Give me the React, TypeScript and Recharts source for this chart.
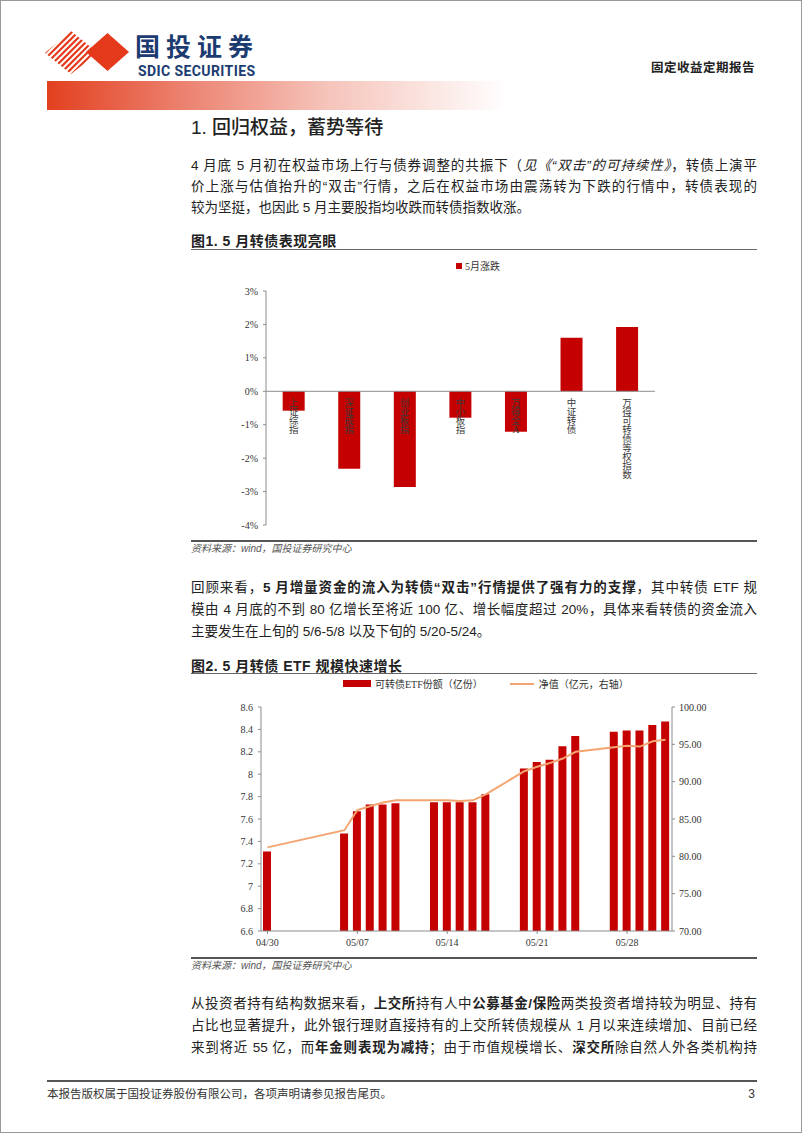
import React from "react";
import {
  BarChart,
  Bar,
  ComposedChart,
  Line,
  XAxis,
  YAxis,
  Legend,
  LabelList,
  ReferenceLine,
} from "recharts";

// 图1：5月涨跌（%）
const indexNames = ["上证综指", "深证成指", "创业板指", "中小板指", "万得全A", "中证转债", "万得可转债等权指数"];
const mayChange = [-0.58, -2.32, -2.86, -0.79, -1.21, 1.6, 1.92];
const pctTicks = [-4, -3, -2, -1, 0, 1, 2, 3];

// 图2：可转债ETF份额（亿份）与净值（亿元）
const dates = [
  "04/30", "05/01", "05/02", "05/03", "05/04", "05/05", "05/06", "05/07",
  "05/08", "05/09", "05/10", "05/11", "05/12", "05/13", "05/14", "05/15",
  "05/16", "05/17", "05/18", "05/19", "05/20", "05/21", "05/22", "05/23",
  "05/24", "05/25", "05/26", "05/27", "05/28", "05/29", "05/30", "05/31",
];
const etfShares = [
  7.31, null, null, null, null, null, 7.47, 7.67,
  7.73, 7.73, 7.74, null, null, 7.75, 7.75, 7.75,
  7.75, 7.82, null, null, 8.05, 8.11, 8.13, 8.25,
  8.34, null, null, 8.38, 8.39, 8.39, 8.44, 8.47,
];
const netValue = [
  81.2, null, null, null, null, null, 83.5, 86.2,
  86.7, 87.2, 87.5, null, null, 87.5, 87.5, 87.4,
  87.5, 88.3, null, null, 91.4, 92.0, 92.5, 93.1,
  94.0, null, null, 94.6, 94.8, 94.7, 95.4, 95.6,
];
const shareTicks = [6.6, 6.8, 7, 7.2, 7.4, 7.6, 7.8, 8, 8.2, 8.4, 8.6];
const navTicks = [70, 75, 80, 85, 90, 95, 100];

const RED = "#C40000";
const ORANGE = "#F4A470";
const AXIS = "#8c8c8c";
const LOGO_RED = "#E5391C";
const NAVY = "#1C3B70";
const SERIF = "'Liberation Serif', 'Noto Sans CJK SC', serif";
const BODY = "'Liberation Sans', 'Noto Sans CJK SC', sans-serif";
const tickStyle = { fill: "#333", fontSize: 10, fontFamily: SERIF };

const changeData = indexNames.map((name, i) => ({ name, value: mayChange[i] }));
const etfData = dates.map((date, i) => ({ date, shares: etfShares[i], nav: netValue[i] }));

// category names are written top-down just under the zero line
function VerticalName(props: any) {
  const vb = props.viewBox ?? props;
  const { x, y, width, height } = vb;
  const zeroY = mayChange[props.index] < 0 ? Math.min(y, y + height) : Math.max(y, y + height);
  const cx = x + width / 2;
  return (
    <text x={cx} y={zeroY + 15} textAnchor="middle" fontSize={9.5} fill="#3a3a3a" fontFamily={SERIF}>
      {String(props.value)
        .split("")
        .map((c, i) => (
          <tspan key={i} x={cx} dy={i === 0 ? 0 : 9}>
            {c}
          </tspan>
        ))}
    </text>
  );
}

function ChangeLegend() {
  return (
    <div style={{ display: "flex", alignItems: "center", fontSize: 10, color: "#333", fontFamily: SERIF }}>
      <span style={{ display: "inline-block", width: 6, height: 6, background: RED, marginRight: 3 }} />
      <span>5月涨跌</span>
    </div>
  );
}

function EtfLegend() {
  return (
    <div style={{ display: "flex", alignItems: "center", fontSize: 10, color: "#333", fontFamily: SERIF, whiteSpace: "nowrap" }}>
      <span style={{ display: "inline-block", width: 28, height: 7, background: RED, marginRight: 4 }} />
      <span>可转债ETF份额（亿份）</span>
      <span style={{ display: "inline-block", width: 24, height: 2, background: ORANGE, marginLeft: 27, marginRight: 5 }} />
      <span>净值（亿元，右轴）</span>
    </div>
  );
}

function ChangeChart() {
  return (
    <BarChart width={566} height={290} data={changeData} margin={{ top: 10, right: 102, left: 0, bottom: 16 }} barCategoryGap="30%">
      <Legend verticalAlign="top" height={30} content={<ChangeLegend />} wrapperStyle={{ left: 265, top: 7, width: "auto" }} />
      <XAxis dataKey="name" hide />
      <YAxis
        domain={[-4, 3]}
        ticks={pctTicks}
        tickFormatter={(v) => `${v}%`}
        width={75}
        tick={tickStyle}
        tickSize={3}
        tickMargin={5}
        axisLine={{ stroke: AXIS }}
        tickLine={{ stroke: AXIS }}
      />
      <ReferenceLine y={0} stroke={AXIS} />
      <Bar dataKey="value" fill={RED} isAnimationActive={false}>
        <LabelList dataKey="name" content={<VerticalName />} />
      </Bar>
    </BarChart>
  );
}

function EtfChart() {
  return (
    <ComposedChart width={566} height={282} data={etfData} margin={{ top: 10, right: 0, left: 0, bottom: 0 }}>
      <Legend verticalAlign="top" height={23} content={<EtfLegend />} wrapperStyle={{ left: 152, top: 2, width: "auto" }} />
      <XAxis
        dataKey="date"
        interval={6}
        tick={tickStyle}
        tickSize={3}
        tickMargin={5}
        height={25}
        axisLine={{ stroke: AXIS }}
        tickLine={{ stroke: AXIS }}
      />
      <YAxis
        yAxisId="left"
        domain={[6.6, 8.6]}
        ticks={shareTicks}
        tickFormatter={(v) => String(parseFloat(Number(v).toFixed(1)))}
        width={70}
        tick={tickStyle}
        tickSize={3}
        tickMargin={5}
        axisLine={{ stroke: AXIS }}
        tickLine={{ stroke: AXIS }}
      />
      <YAxis
        yAxisId="right"
        orientation="right"
        domain={[70, 100]}
        ticks={navTicks}
        tickFormatter={(v) => Number(v).toFixed(2)}
        width={85}
        tick={tickStyle}
        tickSize={3}
        tickMargin={4}
        axisLine={{ stroke: AXIS }}
        tickLine={{ stroke: AXIS }}
      />
      <Bar yAxisId="left" dataKey="shares" fill={RED} barSize={8} isAnimationActive={false} />
      <Line
        yAxisId="right"
        dataKey="nav"
        type="linear"
        stroke={ORANGE}
        strokeWidth={2}
        dot={false}
        connectNulls
        isAnimationActive={false}
      />
    </ComposedChart>
  );
}

function TextLine({ top, last, children }: { top: number; last?: boolean; children: React.ReactNode }) {
  return (
    <div
      style={{
        position: "absolute",
        left: 190,
        top,
        width: 566,
        fontSize: 13.5,
        lineHeight: "22px",
        textAlign: "justify",
        textAlignLast: last ? "left" : "justify",
        color: "#222",
      }}
    >
      {children}
    </div>
  );
}

const abs = (top: number, extra: React.CSSProperties = {}): React.CSSProperties => ({ position: "absolute", top, ...extra });

export default function App() {
  return (
    <div
      lang="zh-CN"
      style={{
        position: "absolute",
        left: 0,
        top: 0,
        width: 802,
        height: 1133,
        boxSizing: "border-box",
        border: "1px solid #999",
        background: "#fff",
        fontFamily: BODY,
        color: "#222",
        overflow: "hidden",
      }}
    >
      {/* header */}
      <svg style={{ position: "absolute", left: 0, top: 0 }} width={140} height={80}>
        <defs>
          <clipPath id="stripeClip">
            <polygon points="44,52 70,30 97,52 70,73" />
          </clipPath>
        </defs>
        <g clipPath="url(#stripeClip)" stroke={LOGO_RED} strokeWidth={2.2}>
          {Array.from({ length: 14 }, (_, i) => 90 + i * 6).map((c) => (
            <line key={c} x1={c - 80} y1={80} x2={c} y2={0} />
          ))}
        </g>
        <polygon points="85,51 106.5,32 128,51 106.5,70" fill={LOGO_RED} />
      </svg>
      <div style={abs(29, { left: 134, fontSize: 25, lineHeight: "30px", fontWeight: 700, color: NAVY, letterSpacing: 6, fontFamily: "'Noto Sans CJK SC'" })}>
        国投证券
      </div>
      <div style={abs(62, { left: 137, fontSize: 14, lineHeight: "17px", fontWeight: 700, color: NAVY, fontFamily: "Roboto", letterSpacing: 0.4 })}>
        SDIC SECURITIES
      </div>
      <div style={abs(59, { right: 46, fontSize: 12.5, lineHeight: "16px", fontWeight: 700, color: "#222", letterSpacing: 0.5 })}>
        固定收益定期报告
      </div>
      <div
        style={abs(80, {
          left: 46,
          width: 460,
          height: 29,
          background: "linear-gradient(to right, #E2401F 0%, #EC8270 30%, #F5C2B8 60%, rgba(255,255,255,0) 100%)",
        })}
      />

      {/* section title */}
      <div style={abs(114, { left: 190, fontSize: 19, lineHeight: "26px", fontWeight: 500, color: "#222" })}>1. 回归权益，蓄势等待</div>

      <TextLine top={154}>
        4 月底 5 月初在权益市场上行与债券调整的共振下（<i>见《“双击”的可持续性》</i>，转债上演平
      </TextLine>
      <TextLine top={175}>价上涨与估值抬升的“双击”行情，之后在权益市场由震荡转为下跌的行情中，转债表现的</TextLine>
      <TextLine top={196} last>
        较为坚挺，也因此 5 月主要股指均收跌而转债指数收涨。
      </TextLine>

      {/* figure 1 */}
      <div style={abs(231, { left: 190, fontSize: 14, lineHeight: "18px", fontWeight: 700, letterSpacing: 0.5 })}>图1. 5 月转债表现亮眼</div>
      <div style={abs(248, { left: 190, width: 566, height: 1, background: "#666" })} />
      <div style={abs(250, { left: 190 })}>
        <ChangeChart />
      </div>
      <div style={abs(539, { left: 190, width: 566, height: 2, background: "#555" })} />
      <div style={abs(541, { left: 190, fontSize: 10, lineHeight: "13px", fontStyle: "italic", color: "#555" })}>资料来源：wind，国投证券研究中心</div>

      <TextLine top={576}>
        回顾来看，<b>5 月增量资金的流入为转债“双击”行情提供了强有力的支撑</b>，其中转债 ETF 规
      </TextLine>
      <TextLine top={598}>模由 4 月底的不到 80 亿增长至将近 100 亿、增长幅度超过 20%，具体来看转债的资金流入</TextLine>
      <TextLine top={620} last>
        主要发生在上旬的 5/6-5/8 以及下旬的 5/20-5/24。
      </TextLine>

      {/* figure 2 */}
      <div style={abs(656, { left: 190, fontSize: 14, lineHeight: "18px", fontWeight: 700, letterSpacing: 0.5 })}>图2. 5 月转债 ETF 规模快速增长</div>
      <div style={abs(672, { left: 190, width: 566, height: 1, background: "#666" })} />
      <div style={abs(673, { left: 190 })}>
        <EtfChart />
      </div>
      <div style={abs(956, { left: 190, width: 566, height: 2, background: "#555" })} />
      <div style={abs(958, { left: 190, fontSize: 10, lineHeight: "13px", fontStyle: "italic", color: "#555" })}>资料来源：wind，国投证券研究中心</div>

      <TextLine top={992}>
        从投资者持有结构数据来看，<b>上交所</b>持有人中<b>公募基金/保险</b>两类投资者增持较为明显、持有
      </TextLine>
      <TextLine top={1014}>占比也显著提升，此外银行理财直接持有的上交所转债规模从 1 月以来连续增加、目前已经</TextLine>
      <TextLine top={1036}>
        来到将近 55 亿，而<b>年金则表现为减持</b>；由于市值规模增长、<b>深交所</b>除自然人外各类机构持
      </TextLine>

      {/* footer */}
      <div style={abs(1079, { left: 46, width: 710, height: 2, background: "#555" })} />
      <div style={abs(1086, { left: 46, fontSize: 11.5, lineHeight: "14px", color: "#333" })}>
        本报告版权属于国投证券股份有限公司，各项声明请参见报告尾页。
      </div>
      <div style={abs(1086, { right: 46, fontSize: 12, lineHeight: "14px", color: "#333" })}>3</div>
    </div>
  );
}
